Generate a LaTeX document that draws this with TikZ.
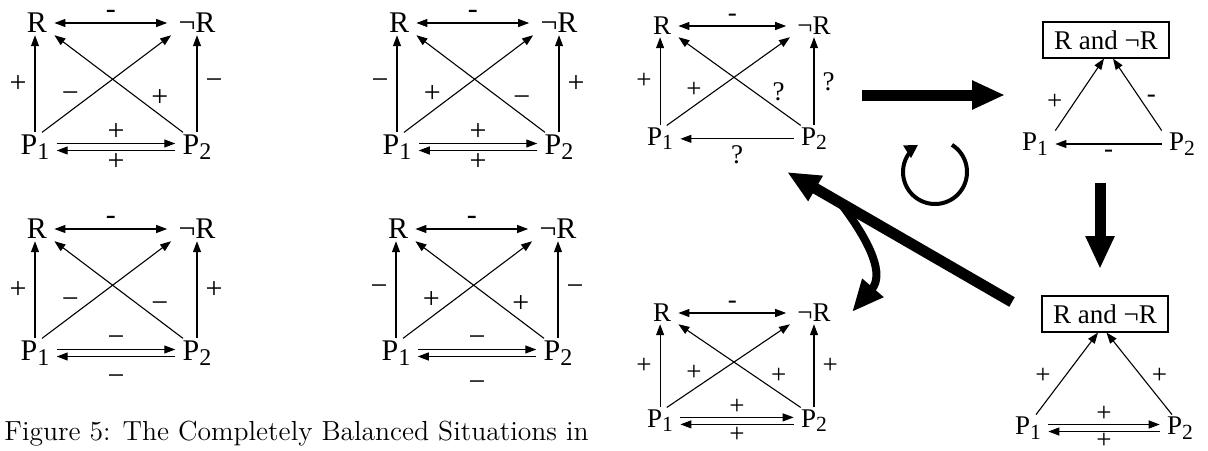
\documentclass[tikz,border=0pt]{standalone}
\usepackage{fontspec}
\setmainfont{Liberation Serif}
\newfontfamily\capfont{Latin Modern Roman}
\usepackage{tikz}
\usetikzlibrary{arrows.meta}

% Subscripted P
\newcommand{\pname}[1]{P\raisebox{-0.35ex}{\scalebox{0.8}{#1}}}

\tikzset{
  term/.style={inner xsep=3.5pt, inner ysep=1pt},
  lbl/.style={inner sep=1pt},
  arr/.style={line width=0.55pt, -{Triangle[length=5.5pt,width=4pt]}},
  dblarr/.style={line width=0.55pt, {Triangle[length=5.5pt,width=4pt]}-{Triangle[length=5.5pt,width=4pt]}},
  relbox/.style={draw, line width=0.55pt, minimum width=63pt, minimum height=18pt, inner sep=2pt},
  bigarr/.style={line width=5.5pt, -{Triangle[length=16.5pt,width=13.5pt]}},
  bendarr/.style={line width=4pt, -{Triangle[length=16pt,width=13pt]}},
  looparr/.style={line width=2pt, -{Triangle[length=6.5pt,width=7pt]}},
  small/.style={font=\fontsize{13.5}{15}\selectfont}
}

% Square diagram: #1 scope options, #2 left, #3 P1 to notR, #4 P2 to R, #5 right
\newcommand{\squarediag}[5]{%
\begin{scope}[#1]
  \node[term] (R) at (0,0) {R};
  \node[term] (nR) at (160,0) {¬R};
  \node[term] (P1) at (-2,124) {\pname{1}};
  \node[term] (P2) at (160,124) {\pname{2}};
  \draw[dblarr] (R.east) -- node[lbl, above=1pt] {-} ([xshift=-2pt]nR.west);
  \draw[arr] (P1.north) -- node[lbl, left=3pt] {#2} (P1.north |- R.south);
  \draw[arr] ([xshift=3.5pt]P1.north) -- node[lbl, pos=0.22, above=3pt] {#3} (nR.south west);
  \draw[arr] ([xshift=-7pt]P2.north) -- node[lbl, pos=0.18, above=3pt] {#4} (R.south east);
  \draw[arr] (P2.north) -- node[lbl, right=3pt] {#5} (P2.north |- nR.south);
\end{scope}}

% Two opposite arrows between P1 and P2; #1 gap of the lower label
\newcommand{\pairarrows}[3][0pt]{%
  \draw[arr] ([yshift=1.75pt]P1.east) -- node[lbl, above=0pt] {#2} ([yshift=1.75pt]P2.west);
  \draw[arr] ([yshift=-1.75pt]P2.west) -- node[lbl, below=#1] {#3} ([yshift=-1.75pt]P1.east);}

\begin{document}
\begin{tikzpicture}[x=0.5pt, y=-0.5pt, font=\fontsize{15}{17}\selectfont]

\useasboundingbox (0,0) rectangle (1208,450);

% Balanced situations
\squarediag{shift={(37,23)}}{+}{−}{+}{−}
\pairarrows{+}{+}
\squarediag{shift={(399,23)}}{−}{+}{−}{+}
\pairarrows{+}{+}
\squarediag{shift={(37,229)}}{+}{−}{−}{+}
\pairarrows[8pt]{−}{−}
\squarediag{shift={(398,229)}}{−}{+}{+}{−}
\pairarrows[11pt]{−}{−}

% Caption
\node[anchor=base west, inner sep=0pt, font=\capfont\fontsize{13.8}{16}\selectfont] (cap) at (4,440)
  {Figure 5: The Completely Balanced Situations in};

% Open situation
\squarediag{shift={(662,26)}, xscale=0.95, yscale=0.91, small}{+}{+}{?}{?}
\draw[arr] (P2.west) -- node[lbl, small, below=2pt] {?} (P1.east);

% Result after one step
\squarediag{shift={(662,313)}, xscale=0.95, yscale=0.87, small}{+}{+}{+}{+}
\begin{scope}[small]
\pairarrows{+}{+}
\end{scope}

% Merged relation, top
\begin{scope}[small]
  \node[relbox] (tbox) at (1106,40) {R and ¬R};
  \node[term] (tP1) at (1035,144) {\pname{1}};
  \node[term] (tP2) at (1182,144) {\pname{2}};
  \draw[arr] (tP1.north east) -- node[lbl, pos=0.4, left=5pt] {+} ([xshift=-1pt]tbox.south);
  \draw[arr] (tP2.north west) -- node[lbl, pos=0.44, right=2pt] {-} ([xshift=3.5pt]tbox.south);
  \draw[arr] (tP2.west) -- node[lbl, below=2pt] {-} (tP1.east);
\end{scope}

% Merged relation, bottom
\begin{scope}[small]
  \node[relbox] (bbox) at (1105,314) {R and ¬R};
  \node[term] (P1) at (1028,428) {\pname{1}};
  \node[term] (P2) at (1180,428) {\pname{2}};
  \draw[arr] ([xshift=4pt]P1.north) -- node[lbl, pos=0.47, left=6pt] {+} ([xshift=-3.5pt]bbox.south);
  \draw[arr] ([xshift=-4pt]P2.north) -- node[lbl, pos=0.47, right=4pt] {+} ([xshift=0.75pt]bbox.south);
  \pairarrows[-0.5pt]{+}{+}
\end{scope}

% Big transition arrows
\coordinate (rA) at (862,95);
\coordinate (rB) at (1005,95);
\coordinate (dA) at (1100,183);
\coordinate (dB) at (1100,269);
\coordinate (bA) at (1012,302);
\coordinate (bB) at (787,172);
\coordinate (cA) at (842,205);
\coordinate (cB) at (852,312);
\draw[bigarr] (rA) -- (rB);
\draw[bigarr] (dA) -- (dB);
\draw[bigarr] (bA) -- (bB);
\draw[bendarr] (cA) .. controls (872,245) and (884,275) .. (cB);

% Loop
\coordinate (loop) at (935,172);
\draw[looparr] ([shift={(-58:32)}]loop) arc (-58:238:32);

\end{tikzpicture}
\end{document}
